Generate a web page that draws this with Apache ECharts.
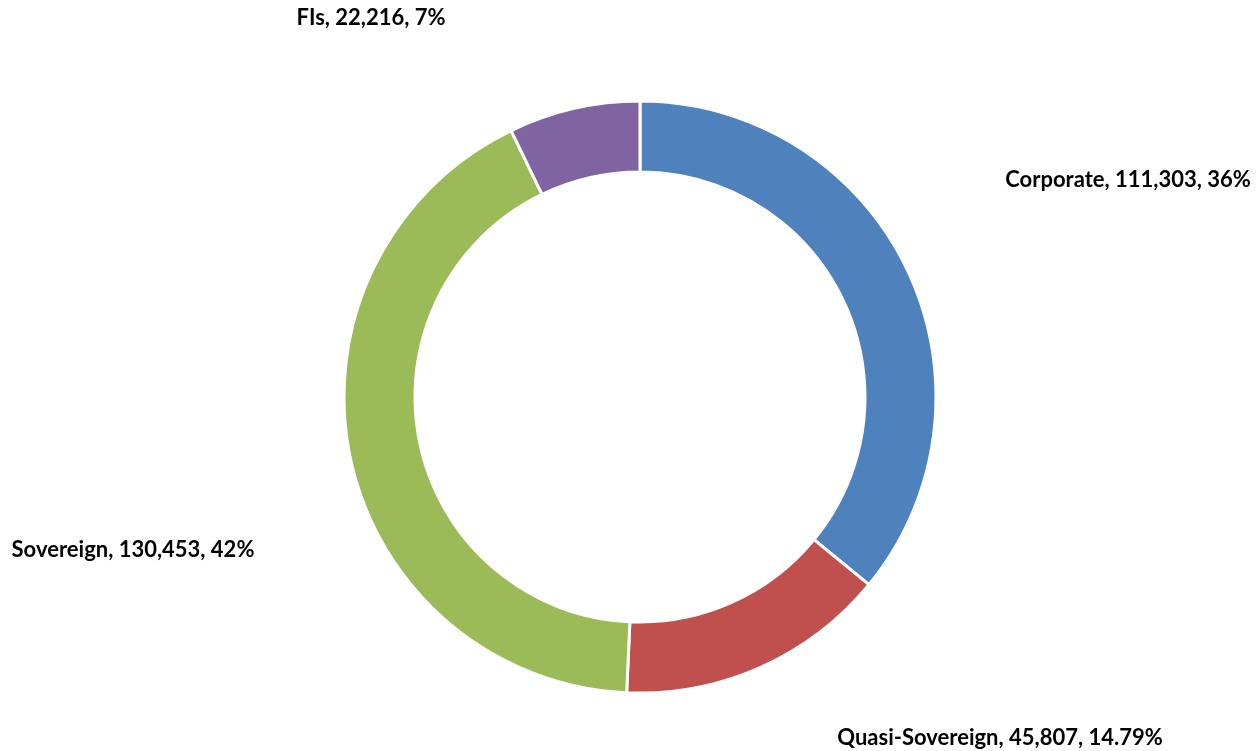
<!DOCTYPE html>
<html>
<head>
<meta charset="utf-8">
<script src="https://cdn.jsdelivr.net/npm/echarts@6/dist/echarts.min.js"></script>
<style>
  html, body { margin: 0; padding: 0; background: #fff; }
  #chart { width: 1257px; height: 751px; }
</style>
</head>
<body>
<div id="chart"></div>
<script>
// segments, clockwise from 12 o'clock
const categories = ['Corporate', 'Quasi-Sovereign', 'Sovereign', 'FIs']
const values = [111303, 45807, 130453, 22216]
const percentLabels = ['36%', '14.79%', '42%', '7%']
const colors = ['#4F81BD', '#C0504D', '#9BBB59', '#8064A2']

// where each label sits (text centre, px)
const labelSpots = [[1128, 180], [1000, 738], [133, 550], [371, 18]]

const fmt = n => n.toLocaleString('en-US')

const chart = echarts.init(document.getElementById('chart'))
chart.setOption({
  animation: false,
  color: colors,
  series: [
    {
      type: 'pie',
      center: [640, 397],
      radius: [225, 296],
      startAngle: 90,
      clockwise: true,
      itemStyle: { borderColor: '#fff', borderWidth: 3 },
      emphasis: { disabled: true },
      labelLine: { show: false },
      label: {
        show: true,
        position: 'outside',
        fontFamily: 'Lato',
        fontWeight: 'bold',
        fontSize: 22,
        color: '#000',
        formatter: p => `${p.name}, ${fmt(p.value)}, ${percentLabels[p.dataIndex]}`
      },
      labelLayout: p => ({
        x: labelSpots[p.dataIndex][0],
        y: labelSpots[p.dataIndex][1],
        align: 'center',
        verticalAlign: 'middle',
        hideOverlap: false
      }),
      data: categories.map((c, i) => ({ name: c, value: values[i] }))
    }
  ]
})
</script>
</body>
</html>
